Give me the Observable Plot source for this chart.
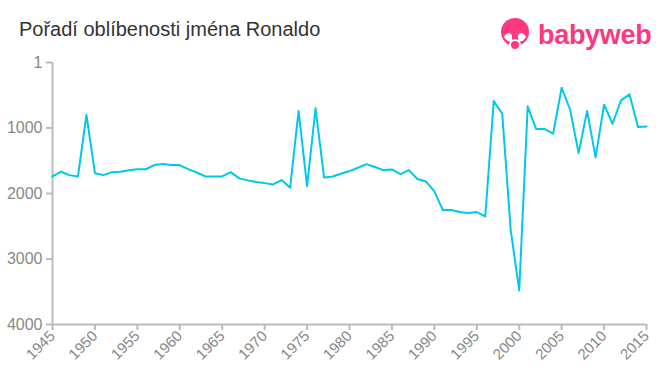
<!DOCTYPE html>
<html>
<head>
<meta charset="utf-8">
<script src="https://cdn.jsdelivr.net/npm/d3@7"></script>
<script src="https://cdn.jsdelivr.net/npm/@observablehq/plot@0.6"></script>
<style>
  html, body { margin: 0; padding: 0; background: #fff; }
  #wrap { position: relative; width: 660px; height: 375px; font-family: "Liberation Sans", Arial, sans-serif; }
  #title { position: absolute; left: 19px; top: 18px; font-size: 20px; color: #333; white-space: nowrap; }
  #logo { position: absolute; left: 498px; top: 17px; display: flex; align-items: center; }
  #logo span { font-family: "Liberation Sans", Arial, sans-serif; font-weight: bold; font-size: 27px; color: #ff3780; margin-left: 6px; letter-spacing: -0.3px; }
  svg { display: block; }
</style>
</head>
<body>
<div id="wrap">
  <div id="chart"></div>
  <div id="title">Pořadí oblíbenosti jména Ronaldo</div>
  <div id="logo">
    <svg width="34" height="36" viewBox="0 0 34 36">
      <circle cx="17" cy="15" r="14" fill="#ff3780"/>
      <path d="M6 20 Q10 13 14 18 L14 24 Q10 26 6 20 Z" fill="#fff"/>
      <path d="M28 20 Q24 13 20 18 L20 24 Q24 26 28 20 Z" fill="#fff"/>
      <circle cx="17" cy="28" r="5" fill="#ff3780" stroke="#fff" stroke-width="2"/>
    </svg>
    <span>babyweb</span>
  </div>
</div>
<script>
const years = d3.range(1945, 2016);
const ranks = [
  1740, 1668, 1720, 1740, 800, 1690, 1720, 1675, 1670, 1645,
  1630, 1630, 1567, 1552, 1567, 1567, 1628, 1680, 1740, 1740,
  1740, 1675, 1770, 1800, 1826, 1842, 1862, 1796, 1913, 740,
  1890, 700, 1755, 1740, 1698, 1658, 1607, 1552, 1597, 1643,
  1633, 1704, 1643, 1780, 1816, 1969, 2253, 2253, 2284, 2299,
  2284, 2350, 590, 783, 2560, 3480, 670, 1017, 1017, 1088,
  386, 722, 1384, 740, 1450, 645, 936, 580, 488, 987,
  977
];
const yTicks = [1, 1000, 2000, 3000, 4000];
const xTicks = d3.range(1945, 2016, 5);

const data = years.map((y, i) => ({year: y, rank: ranks[i]}));

const chart = Plot.plot({
  width: 660,
  height: 375,
  marginLeft: 52,
  marginRight: 14,
  marginTop: 62,
  marginBottom: 51,
  style: {fontFamily: "Liberation Sans, Arial, sans-serif", background: "#fff"},
  x: {domain: [1945, 2015]},
  y: {domain: [1, 4000], reverse: true},
  marks: [
    Plot.axisY({ticks: yTicks, tickSize: 6, tickPadding: 4, tickFormat: d => String(d), fontSize: 16, color: "#888", stroke: "#bbb", strokeWidth: 2, label: null}),
    Plot.axisX({ticks: xTicks, tickSize: 6, tickPadding: 3, tickRotate: -45, tickFormat: d => String(d), fontSize: 15, color: "#888", stroke: "#bbb", strokeWidth: 2, label: null}),
    Plot.ruleX([1945], {stroke: "#bbb", strokeWidth: 2}),
    Plot.ruleY([4000], {stroke: "#bbb", strokeWidth: 2}),
    Plot.line(data, {x: "year", y: "rank", stroke: "#00c8e8", strokeWidth: 2})
  ]
});
document.getElementById("chart").appendChild(chart);
</script>
</body>
</html>
